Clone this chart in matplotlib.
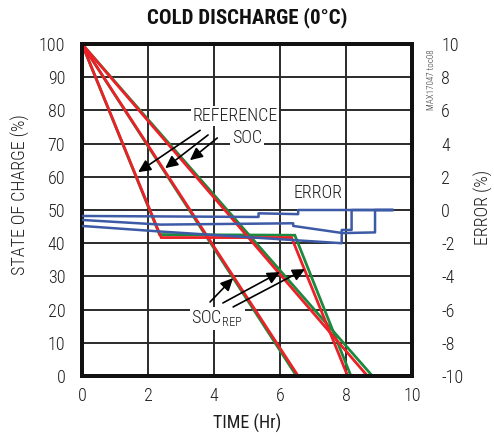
import matplotlib
matplotlib.use("Agg")
import matplotlib.pyplot as plt
from matplotlib import font_manager

# ---------------- data ----------------
# Test 1: fast discharge, rest, then discharge again
t_ref1 = [0, 2.35, 6.45, 8.15]
soc_ref1 = [100, 42.6, 42.4, 0]
t_rep1 = [0, 2.4, 6.35, 8.05]
soc_rep1 = [100, 41.7, 41.7, 0]
# Test 2: medium discharge
t_ref2 = [0, 6.5]
soc_ref2 = [100, 0]
t_rep2 = [0, 6.55, 9.4]
soc_rep2 = [100, 0, 0]
# Test 3: slow discharge
t_ref3 = [0, 8.8]
soc_ref3 = [100, 0]
t_rep3 = [0, 8.65]
soc_rep3 = [100, 0]

# Error traces (right axis, %)
t_err_a = [0, 5.35, 5.35, 6.55, 6.55, 9.4]
err_a = [-0.36, -0.42, -0.2, -0.25, 0.0, 0.0]
t_err_b = [0, 2.4, 6.4, 6.4, 7.9, 8.88, 8.88, 9.4]
err_b = [-0.6, -0.88, -0.8, -0.96, -1.39, -1.35, 0.0, 0.0]
t_err_c = [0, 2.4, 7.87, 7.87, 8.17, 8.17, 9.4]
err_c = [-0.96, -1.3, -2.0, -1.2, -1.2, 0.0, 0.0]

x_ticks = [0, 2, 4, 6, 8, 10]
y_ticks = [0, 10, 20, 30, 40, 50, 60, 70, 80, 90, 100]
y2_ticks = [-10, -8, -6, -4, -2, 0, 2, 4, 6, 8, 10]

# ---------------- style ----------------
names = {f.name for f in font_manager.fontManager.ttflist}
narrow = "Roboto Condensed" if "Roboto Condensed" in names else "DejaVu Sans"
plt.rcParams['font.family'] = [narrow, 'DejaVu Sans']
plt.rcParams['font.weight'] = 300

GREEN = "#1b8a3e"
RED = "#ec2027"
BLUE = "#3c5aa6"
GRID = "#2a2a2a"
TXT = "#1e1e1e"

fig = plt.figure(figsize=(4.94, 4.38), dpi=100)
ax = fig.add_axes([82/494, 1-376/438, 330/494, 332/438])
ax2 = ax.twinx()

ax.set_xlim(0, 10)
ax.set_ylim(0, 100)
ax2.set_ylim(-10, 10)
ax.set_xticks(x_ticks)
ax.set_yticks(y_ticks)
ax2.set_yticks(y2_ticks)
ax.set_xticklabels([str(v) for v in x_ticks])
ax.set_yticklabels([str(v) for v in y_ticks])
ax2.set_yticklabels([str(v) for v in y2_ticks], ha='left')

ax.grid(True, color=GRID, linewidth=1.4)
ax.set_axisbelow(True)
for a in (ax, ax2):
    for s in a.spines.values():
        s.set_linewidth(2.8)
        s.set_color("#111111")
ax.tick_params(length=0, labelsize=13, pad=12, labelcolor=TXT)
ax.tick_params(axis='x', pad=8)
ax2.tick_params(length=0, labelsize=13, pad=21, labelcolor=TXT)

lw = 2.0
kw = dict(clip_on=False, solid_joinstyle='miter')
ax.plot(t_ref1, soc_ref1, color=GREEN, lw=lw, zorder=3, **kw)
ax.plot(t_ref2, soc_ref2, color=GREEN, lw=lw, zorder=3, **kw)
ax.plot(t_ref3, soc_ref3, color=GREEN, lw=lw, zorder=3, **kw)
ax.plot(t_rep1, soc_rep1, color=RED, lw=lw, zorder=4, **kw)
ax.plot(t_rep2, soc_rep2, color=RED, lw=lw, zorder=4, **kw)
ax.plot(t_rep3, soc_rep3, color=RED, lw=lw, zorder=4, **kw)

ax2.plot(t_err_a, err_a, color=BLUE, lw=1.8, zorder=3)
ax2.plot(t_err_b, err_b, color=BLUE, lw=1.8, zorder=3)
ax2.plot(t_err_c, err_c, color=BLUE, lw=1.8, zorder=3)

# annotations
bbox = dict(facecolor='white', edgecolor='none', pad=1.0)
ax.text(4.64, 78.3, "REFERENCE", ha='center', va='center', fontsize=13,
        color=TXT, bbox=bbox, zorder=6)
ax.text(5.0, 71.7, "SOC", ha='center', va='center', fontsize=13,
        color=TXT, bbox=bbox, zorder=6)
ax.text(7.15, 55.0, "ERROR", ha='center', va='center', fontsize=13,
        color=TXT, bbox=bbox, zorder=6)
ax.text(4.1, 17.3, r"SOC$_{\mathregular{REP}}$", ha='center', va='center', fontsize=13,
        color=TXT, bbox=bbox, zorder=6)

arrow = dict(arrowstyle='-|>,head_length=0.75,head_width=0.36', color='black', lw=1.2,
             shrinkA=0, shrinkB=0)
for (x0, y0, x1, y1) in [(3.58, 74.0, 1.7, 61.4), (3.82, 72.6, 2.52, 62.6),
                         (4.1, 71.7, 3.27, 65.0),
                         (3.88, 22.3, 4.58, 29.5), (4.27, 22.0, 6.0, 31.3),
                         (4.58, 20.8, 6.76, 32.2)]:
    ax.annotate("", xy=(x1, y1), xytext=(x0, y0), arrowprops=arrow, zorder=7)

fig.text(247/494, 1-18/438, "COLD DISCHARGE (0°C)", ha='center', va='center',
         fontsize=15, fontweight=900, color="#111111")
ax.set_xlabel("TIME (Hr)", fontsize=13, labelpad=6, color=TXT)
fig.text(20/494, 1-195/438, "STATE OF CHARGE (%)", rotation=90, ha='center',
         va='center', fontsize=13, color=TXT)
fig.text(483/494, 1-207/438, "ERROR (%)", rotation=90, ha='center',
         va='center', fontsize=13, color=TXT)
fig.text(431/494, 1-80/438, "MAX17047 toc08", rotation=90, ha='center',
         va='center', fontsize=6.5, color="#333333")

fig.savefig("out.png", dpi=100, facecolor='white')
